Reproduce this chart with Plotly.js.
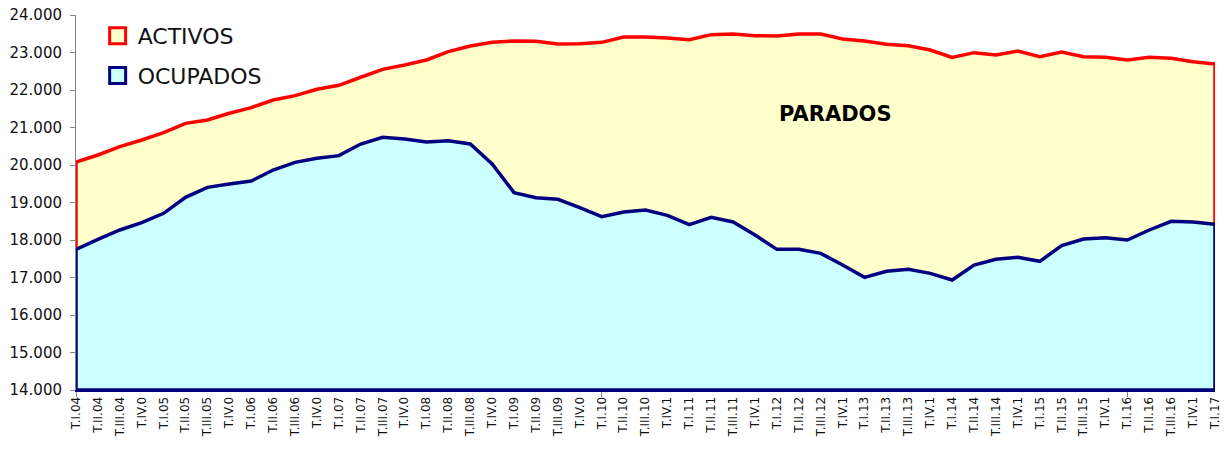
<!DOCTYPE html>
<html>
<head>
<meta charset="utf-8">
<script src="https://cdn.plot.ly/plotly-3.0.1.min.js"></script>
<style>html,body{margin:0;padding:0;background:#fff;}#chart{width:1229px;height:450px;}</style>
</head>
<body>
<div id="chart"></div>
<script>
const quarterLabels = [
  "T.I.04","T.II.04","T.III.04","T.IV.0",
  "T.I.05","T.II.05","T.III.05","T.IV.0",
  "T.I.06","T.II.06","T.III.06","T.IV.0",
  "T.I.07","T.II.07","T.III.07","T.IV.0",
  "T.I.08","T.II.08","T.III.08","T.IV.0",
  "T.I.09","T.II.09","T.III.09","T.IV.0",
  "T.I.10","T.II.10","T.III.10","T.IV.1",
  "T.I.11","T.II.11","T.III.11","T.IV.1",
  "T.I.12","T.II.12","T.III.12","T.IV.1",
  "T.I.13","T.II.13","T.III.13","T.IV.1",
  "T.I.14","T.II.14","T.III.14","T.IV.1",
  "T.I.15","T.II.15","T.III.15","T.IV.1",
  "T.I.16","T.II.16","T.III.16","T.IV.1",
  "T.I.17"
];
const activos = [
  20080,20267,20490,20667,
  20862,21110,21200,21380,
  21530,21733,21850,22020,
  22125,22340,22550,22667,
  22800,23022,23173,23271,
  23307,23298,23227,23235,
  23271,23413,23413,23387,
  23342,23476,23493,23449,
  23440,23493,23493,23360,
  23307,23218,23182,23067,
  22871,22996,22933,23040,
  22889,23013,22889,22871,
  22800,22871,22844,22756,
  22693
];
const ocupados = [
  17752,18019,18267,18462,
  18711,19138,19404,19493,
  19573,19867,20071,20178,
  20249,20560,20738,20693,
  20613,20649,20560,20027,
  19262,19129,19084,18862,
  18622,18747,18800,18658,
  18409,18604,18480,18133,
  17751,17751,17644,17333,
  17004,17164,17218,17111,
  16933,17333,17484,17538,
  17431,17849,18027,18062,
  18000,18267,18498,18480,
  18418
];
const yMin = 14000, yMax = 24000;
const majorTickEvery = 24;

const idx = quarterLabels.map((_, i) => i);
const last = idx.length - 1;
function polygon(vals) {
  return {
    x: [0].concat(idx, [last, 0]),
    y: [yMin].concat(vals, [yMin, yMin])
  };
}
const pA = polygon(activos), pO = polygon(ocupados);
const FONT = "DejaVu Sans, sans-serif";

const traces = [
  {type:"scatter", mode:"lines", x:pA.x, y:pA.y, fill:"toself", fillcolor:"#FFFFCC",
   line:{color:"#FF0000", width:3.5}, showlegend:false, hoverinfo:"skip"},
  {type:"scatter", mode:"lines", x:pO.x, y:pO.y, fill:"toself", fillcolor:"#CCFFFF",
   line:{color:"#000080", width:3.5}, showlegend:false, hoverinfo:"skip"},
  {type:"scatter", mode:"markers", x:[null], y:[null], name:"ACTIVOS", legendgroup:"a",
   marker:{symbol:"square", size:16, color:"#FFFFCC", line:{color:"#FF0000", width:3}}},
  {type:"scatter", mode:"markers", x:[null], y:[null], name:"OCUPADOS", legendgroup:"o",
   marker:{symbol:"square", size:16, color:"#CCFFFF", line:{color:"#000080", width:3}}}
];

const layout = {
  width:1229, height:450,
  margin:{l:76, r:14, t:15, b:60},
  paper_bgcolor:"#ffffff", plot_bgcolor:"#ffffff",
  separators:",.",
  font:{family:FONT, color:"#111"},
  showlegend:true,
  legend:{x:0.019, y:1.0, xanchor:"left", yanchor:"top", bgcolor:"rgba(0,0,0,0)",
          font:{family:FONT, size:22, color:"#111"}, tracegroupgap:8, itemwidth:30},
  xaxis:{
    range:[0, last], showgrid:false, zeroline:false,
    tickmode:"array", tickvals:idx, ticktext:quarterLabels, tickangle:-90,
    ticks:"", tickfont:{family:FONT, size:12, color:"#111"},
    showline:true, linecolor:"#000080", linewidth:2,
    minor:{tickmode:"array", tickvals:idx.filter(i => i % majorTickEvery === 0), ticks:"outside", ticklen:5, tickcolor:"#868686", tickwidth:1}
  },
  yaxis:{
    range:[yMin, yMax], dtick:1000, tick0:yMin, tickformat:",d",
    showgrid:false, zeroline:false, showline:true, linecolor:"#868686", linewidth:1,
    ticks:"outside", ticklen:5, tickcolor:"#868686",
    tickfont:{family:FONT, size:15, color:"#111"}, ticklabelstandoff:5
  },
  annotations:[
    {text:"<b>PARADOS</b>", xref:"paper", yref:"paper", x:0.667, y:0.735,
     xanchor:"center", yanchor:"middle",
     showarrow:false, font:{family:FONT, size:21, color:"#000"}}
  ]
};

Plotly.newPlot("chart", traces, layout, {displayModeBar:false, staticPlot:true});
</script>
</body>
</html>
